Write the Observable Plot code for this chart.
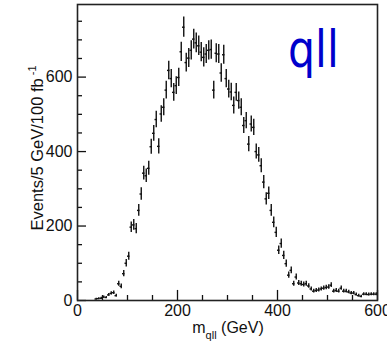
<!DOCTYPE html>
<html><head><meta charset="utf-8">
<script src="https://cdn.jsdelivr.net/npm/d3@7"></script>
<script src="https://cdn.jsdelivr.net/npm/@observablehq/plot@0.6"></script>
<style>body{margin:0;background:#fff}</style>
</head><body><div id="chart"></div>
<script>
// bin centres (GeV), 5 GeV bins
const binCenters = [37.5,42.5,47.5,52.5,57.5,62.5,67.5,72.5,77.5,82.5,87.5,92.5,97.5,
102.5,107.5,112.5,117.5,122.5,127.5,132.5,137.5,142.5,147.5,152.5,157.5,162.5,167.5,172.5,177.5,182.5,187.5,192.5,197.5,
202.5,207.5,212.5,217.5,222.5,227.5,232.5,237.5,242.5,247.5,252.5,257.5,262.5,267.5,272.5,277.5,282.5,287.5,292.5,297.5,
302.5,307.5,312.5,317.5,322.5,327.5,332.5,337.5,342.5,347.5,352.5,357.5,362.5,367.5,372.5,377.5,382.5,387.5,392.5,397.5,
402.5,407.5,412.5,417.5,422.5,427.5,432.5,437.5,442.5,447.5,452.5,457.5,462.5,467.5,472.5,477.5,482.5,487.5,492.5,497.5,
502.5,507.5,512.5,517.5,522.5,527.5,532.5,537.5,542.5,547.5,552.5,557.5,562.5,567.5,572.5,577.5,582.5,587.5,592.5,597.5];
// events per bin
const events = [4,5,6,9,8,15,19,21,13,45,38,72,100,
119,197,203,193,242,286,342,335,355,413,449,486,414,501,519,565,618,596,559,577,
599,668,734,639,651,672,702,692,684,667,653,662,672,674,565,664,662,611,660,596,
568,560,524,559,537,519,470,483,420,474,465,400,391,362,318,273,288,242,210,183,
135,153,121,99,68,81,45,63,47,45,43,45,39,31,25,27,28,31,33,35,
36,41,25,27,25,33,25,25,23,20,20,16,13,11,17,17,16,17,17,17];
const xMajor = [0, 200, 400, 600];
const xMinor = [50, 100, 150, 250, 300, 350, 450, 500, 550];
const yMajor = [0, 200, 400, 600];
const yMinor = [50, 100, 150, 250, 300, 350, 450, 500, 550, 650, 700, 750];

const data = binCenters.map((m, i) => ({m, v: events[i], e: Math.sqrt(events[i])}));

const plot = Plot.plot({
  width: 387, height: 343,
  marginLeft: 77, marginRight: 10, marginTop: 4, marginBottom: 43,
  style: {fontFamily: "'Liberation Sans', Arial, sans-serif", fontSize: "16px", background: "#fff", color: "#111"},
  x: {domain: [0, 600]},
  y: {domain: [0, 795]},
  marks: [
    Plot.ruleX(xMajor, {x: d => d, y1: 0, y2: 27, stroke: "#111", strokeWidth: 1.3}),
    Plot.ruleX(xMinor, {x: d => d, y1: 0, y2: 13.5, stroke: "#111", strokeWidth: 1.3}),
    Plot.ruleY(yMajor, {y: d => d, x1: 0, x2: 18, stroke: "#111", strokeWidth: 1.3}),
    Plot.ruleY(yMinor, {y: d => d, x1: 0, x2: 10, stroke: "#111", strokeWidth: 1.3}),
    Plot.ruleX(data, {x: "m", y1: d => d.v - d.e, y2: d => d.v + d.e, stroke: "#111", strokeWidth: 1.4}),
    Plot.ruleY(data, {y: "v", x1: d => d.m - 2.5, x2: d => d.m + 2.5, stroke: "#111", strokeWidth: 1.4}),
    Plot.axisX({ticks: xMajor, tickSize: 0, tickPadding: 4, label: null, tickFormat: d => String(d)}),
    Plot.axisY({ticks: yMajor, tickSize: 0, tickPadding: 5, label: null, tickFormat: d => String(d)}),
    Plot.frame({stroke: "#222", strokeWidth: 1.6})
  ]
});
document.getElementById("chart").appendChild(plot);

const svg = d3.select(plot);
const yl = svg.append("text")
  .attr("transform", "translate(43,148) rotate(-90)")
  .attr("text-anchor", "middle")
  .attr("font-size", 16.5).attr("fill", "#111")
  .attr("font-family", "'Liberation Sans', Arial, sans-serif");
yl.append("tspan").text("Events/5 GeV/100 fb");
yl.append("tspan").attr("dy", -7).attr("font-size", 11).text(" -1");

const xl = svg.append("text")
  .attr("x", 228).attr("y", 333)
  .attr("text-anchor", "middle")
  .attr("font-size", 16).attr("fill", "#111")
  .attr("font-family", "'Liberation Sans', Arial, sans-serif");
xl.append("tspan").text("m");
xl.append("tspan").attr("dy", 6).attr("font-size", 11).text("qll");
xl.append("tspan").attr("dy", -6).text(" (GeV)");

svg.append("text")
  .attr("transform", "translate(288,67) scale(0.82,1)")
  .attr("text-anchor", "start")
  .attr("font-size", 52).attr("fill", "#0000cc")
  .attr("font-family", "'DejaVu Sans', sans-serif")
  .text("qll");
</script>
</body></html>
